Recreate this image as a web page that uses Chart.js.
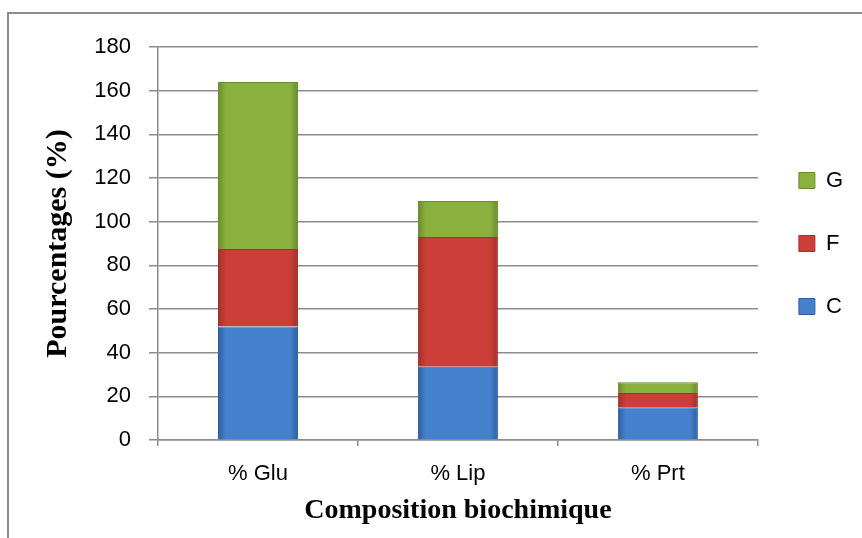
<!DOCTYPE html>
<html>
<head>
<meta charset="utf-8">
<script src="https://cdn.jsdelivr.net/npm/chart.js@4.4.0/dist/chart.umd.min.js"></script>
<style>
html, body { margin: 0; padding: 0; background: #fff; }
#wrap { position: relative; width: 862px; height: 538px; overflow: hidden; }
#frame { position: absolute; left: 7px; top: 12px; width: 900px; height: 600px;
  border-left: 2px solid #8c8c8c; border-top: 2px solid #8c8c8c; }
canvas { position: absolute; left: 0; top: 0; }
</style>
</head>
<body>
<div id="wrap">
  <div id="frame"></div>
  <canvas id="chart" width="862" height="538"></canvas>
</div>
<script>
// data
const categories = ['% Glu', '% Lip', '% Prt'];
const seriesC = [52, 33.5, 15];
const seriesF = [35.5, 59.5, 6.5];
const seriesG = [76.5, 16.5, 5];
const seriesNames = ['C', 'F', 'G'];
const yMin = 0, yMax = 180, yStep = 20;

// colours: edge / middle
const darkColors = ['#2d5f9f', '#a3302b', '#6a8b2b'];
const midColors = ['#4581cc', '#cc3e38', '#8ab13e'];

function barFill(i) {
  return function (ctx) {
    const chart = ctx.chart;
    const x = chart.scales && chart.scales.x;
    if (!x || !chart.chartArea) return midColors[i];
    const cx = x.getPixelForValue(ctx.dataIndex);
    const half = (x.width / categories.length) * 0.4 / 2;
    const g = chart.ctx.createLinearGradient(cx - half, 0, cx + half, 0);
    g.addColorStop(0, darkColors[i]);
    g.addColorStop(0.1, midColors[i]);
    g.addColorStop(0.9, midColors[i]);
    g.addColorStop(1, darkColors[i]);
    return g;
  };
}

const allSeries = [seriesC, seriesF, seriesG];
const datasets = allSeries.map((d, i) => ({
  label: seriesNames[i],
  data: d,
  backgroundColor: barFill(i),
  borderColor: darkColors[i],
  borderWidth: 1,
  categoryPercentage: 0.8,
  barPercentage: 0.5
}));

const tickFont = { family: 'Liberation Sans', size: 22 };
const xTitleFont = { family: 'Liberation Serif', size: 28, weight: 'bold' };
const yTitleFont = { family: 'Liberation Serif', size: 30, weight: 'bold' };

new Chart(document.getElementById('chart'), {
  type: 'bar',
  data: { labels: categories, datasets: datasets },
  options: {
    responsive: false,
    animation: false,
    layout: { padding: { left: 10, top: 47, right: 9, bottom: 0 } },
    plugins: {
      tooltip: { enabled: false },
      legend: {
        position: 'right',
        fullSize: false,
        reverse: true,
        labels: {
          font: { family: 'Liberation Sans', size: 22, lineHeight: 0.73 },
          color: '#000',
          boxWidth: 16,
          boxHeight: 16,
          padding: 41,
          generateLabels(chart) {
            const items = Chart.defaults.plugins.legend.labels.generateLabels(chart);
            items.forEach(it => {
              it.fillStyle = midColors[it.datasetIndex];
              it.strokeStyle = darkColors[it.datasetIndex];
              it.lineWidth = 1;
            });
            return items;
          }
        }
      }
    },
    scales: {
      x: {
        stacked: true,
        grid: { display: true, drawOnChartArea: false, drawTicks: true, tickLength: 6, color: '#8c8c8c', lineWidth: 1.5 },
        border: { display: true, color: '#8c8c8c', width: 1.5 },
        ticks: { font: tickFont, color: '#000', padding: 15 },
        title: { display: true, text: 'Composition biochimique', font: xTitleFont, color: '#000', padding: { top: 0, bottom: 10 } },
        afterFit(scale) { scale.height = 98; }
      },
      y: {
        stacked: true,
        min: yMin,
        max: yMax,
        grid: { color: '#8c8c8c', lineWidth: 1.5, tickLength: 9 },
        border: { display: true, color: '#8c8c8c', width: 1.5 },
        ticks: { stepSize: yStep, font: tickFont, color: '#000', padding: 18 },
        title: { display: true, text: 'Pourcentages (%)', font: yTitleFont, color: '#000', padding: { top: 30, bottom: 0 } },
        afterFit(scale) { scale.width = 148; }
      }
    }
  }
});
</script>
</body>
</html>
